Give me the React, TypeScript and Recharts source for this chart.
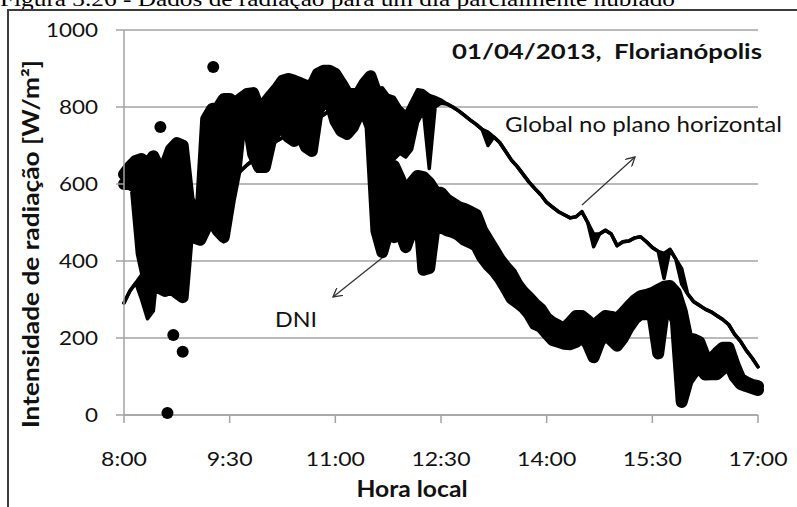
import React from 'react';
import { ComposedChart, Area, Scatter, XAxis, YAxis, CartesianGrid } from 'recharts';

// Eixo X: hora local (minutos desde 0:00), amostras a cada 5 min de 8:00 a 17:00
const T0 = 480;
const STEP = 5;
const xTickLabels = ['8:00', '9:30', '11:00', '12:30', '14:00', '15:30', '17:00'];
const yTicks = [0, 200, 400, 600, 800, 1000];

// DNI: envelope (max/min), uma linha por hora
const dniHi = [
  625, 645, 660, 665, 650, 672, 640, 648, 690, 706, 700, 561,
  525, 510, 769, 795, 797, 821, 821, 810, 823, 834, 836, 795,
  810, 829, 847, 868, 873, 868, 862, 855, 855, 886, 894, 894,
  886, 862, 836, 833, 836, 862, 880, 836, 769, 647, 647, 613,
  569, 603, 621, 618, 603, 580, 577, 560, 550, 540, 535, 528,
  520, 480, 455, 430, 405, 385, 368, 340, 320, 305, 288, 275,
  252, 240, 232, 225, 240, 257, 257, 245, 231, 245, 257, 255,
  250, 265, 282, 298, 309, 312, 317, 325, 333, 335, 318, 270,
  197, 197, 190, 150, 145, 161, 175, 175, 130, 94, 85, 78,
  75,
];
const dniLo = [
  600, 600, 590, 420, 350, 330, 330, 322, 330, 317, 306, 488,
  460, 455, 488, 504, 478, 462, 556, 634, 780, 774, 678, 644,
  644, 712, 738, 756, 722, 712, 730, 696, 686, 790, 813, 816,
  764, 738, 730, 748, 782, 790, 748, 478, 423, 478, 462, 478,
  436, 478, 566, 377, 382, 500, 488, 480, 475, 468, 455, 448,
  440, 410, 390, 375, 355, 330, 303, 292, 280, 262, 236, 229,
  212, 195, 190, 185, 184, 190, 205, 185, 150, 190, 210, 195,
  180, 200, 228, 250, 262, 262, 262, 160, 275, 280, 245, 34,
  88, 110, 125, 105, 106, 106, 120, 135, 100, 81, 75, 70,
  65,
];

// Global no plano horizontal
const globalHi = [
  291, 322, 343, 364, 387, 410, 420, 440, 462, 480, 495, 512,
  525, 540, 555, 565, 580, 600, 612, 620, 636, 650, 662, 672,
  685, 700, 712, 720, 728, 736, 744, 752, 760, 770, 780, 790,
  798, 804, 810, 815, 822, 830, 840, 845, 850, 830, 825, 800,
  785, 815, 845, 842, 830, 825, 818, 808, 800, 790, 778, 766,
  755, 742, 735, 722, 708, 685, 662, 645, 625, 605, 588, 572,
  552, 540, 528, 520, 512, 515, 528, 500, 470, 470, 480, 470,
  440, 450, 452, 460, 463, 450, 435, 425, 420, 430, 405, 380,
  315, 295, 285, 275, 268, 258, 248, 235, 210, 192, 168, 148,
  125,
];
const globalLo = [
  291, 322, 343, 300, 250, 270, 420, 440, 462, 480, 495, 470,
  455, 455, 555, 565, 580, 450, 560, 620, 636, 650, 662, 672,
  685, 700, 712, 720, 728, 736, 744, 752, 760, 770, 780, 790,
  798, 804, 810, 815, 822, 830, 840, 845, 830, 660, 665, 680,
  670, 690, 760, 790, 640, 800, 810, 808, 800, 790, 778, 766,
  755, 742, 700, 722, 708, 685, 662, 645, 625, 605, 588, 572,
  552, 540, 528, 520, 512, 515, 528, 500, 437, 470, 480, 470,
  440, 450, 452, 460, 463, 450, 435, 425, 355, 430, 405, 340,
  315, 295, 285, 275, 268, 258, 248, 235, 210, 192, 168, 148,
  125,
];

// pontos isolados de DNI
const dniDotTimes = [511, 556, 517, 522, 530];
const dniDotValues = [748, 904, 5, 208, 164];

const toMin = (s: string) => {
  const [h, m] = s.split(':').map(Number);
  return h * 60 + m;
};
const xTicks = xTickLabels.map(toMin);

const rows = dniHi.map((_, i) => ({
  t: T0 + i * STEP,
  dni: [dniLo[i], dniHi[i]],
  glob: [globalLo[i], globalHi[i]],
}));
const dniDots = dniDotTimes.map((t, i) => ({ t, v: dniDotValues[i] }));

const GRID = '#a3a3a3';
const INK = '#111';
const FONT = 'Lato, "Open Sans", sans-serif';

const YTick = (props: any) => {
  const s = String(props.payload.value);
  return (
    <text x={props.x} y={props.y} dy={7} textAnchor="end" fontFamily={FONT} fontSize={19} fill={INK}
      textLength={s.length * 13} lengthAdjust="spacingAndGlyphs">
      {s}
    </text>
  );
};

const XTick = (props: any) => {
  const s = xTickLabels[xTicks.indexOf(props.payload.value)] ?? '';
  const digits = s.replace(':', '').length;
  return (
    <text x={props.x} y={props.y} dy={41} textAnchor="middle" fontFamily={FONT} fontSize={19} fill={INK}
      textLength={digits * 13.3 + 6} lengthAdjust="spacingAndGlyphs">
      {s}
    </text>
  );
};

const DotShape = (props: any) => <circle cx={props.cx} cy={props.cy} r={6} fill="#000" />;

export default function App() {
  return (
    <div style={{ position: 'absolute', left: 0, top: 0, width: 797, height: 507, background: '#fff', overflow: 'hidden' }}>
      <div style={{ position: 'absolute', left: 0, top: 0 }}>
        <ComposedChart width={797} height={507} data={rows} margin={{ top: 30, right: 39, left: 64, bottom: 62 }}>
          <CartesianGrid vertical={false} stroke={GRID} strokeWidth={1.5} />
          <XAxis
            type="number"
            dataKey="t"
            domain={[480, 1020]}
            ticks={xTicks}
            interval={0}
            height={30}
            tickSize={8}
            tickMargin={2}
            axisLine={{ stroke: GRID, strokeWidth: 1.5 }}
            tickLine={{ stroke: GRID, strokeWidth: 1.5 }}
            tick={<XTick />}
          />
          <YAxis
            type="number"
            domain={[0, 1000]}
            ticks={yTicks}
            interval={0}
            width={60}
            tickSize={8}
            tickMargin={18}
            axisLine={{ stroke: GRID, strokeWidth: 1.5 }}
            tickLine={{ stroke: GRID, strokeWidth: 1.5 }}
            tick={<YTick />}
          />
          <Area
            type="linear"
            dataKey="glob"
            stroke="#000"
            strokeWidth={3.5}
            strokeLinejoin="round"
            strokeLinecap="round"
            fill="#000"
            fillOpacity={1}
            dot={false}
            activeDot={false}
            isAnimationActive={false}
          />
          <Area
            type="linear"
            dataKey="dni"
            stroke="#000"
            strokeWidth={12}
            strokeLinejoin="round"
            strokeLinecap="round"
            fill="#000"
            fillOpacity={1}
            dot={false}
            activeDot={false}
            isAnimationActive={false}
          />
          <Scatter data={dniDots} dataKey="v" shape={<DotShape />} isAnimationActive={false} />
        </ComposedChart>
      </div>
      <svg width={797} height={507} style={{ position: 'absolute', left: 0, top: 0, pointerEvents: 'none' }}>
        <defs>
          <marker id="head" viewBox="0 0 10 10" refX={9} refY={5} markerWidth={10} markerHeight={10}
            markerUnits="userSpaceOnUse" orient="auto">
            <path d="M0,0 L9,5 L0,10" fill="none" stroke="#333" strokeWidth={1.3} />
          </marker>
        </defs>
        <text x={0} y={6} fontFamily='"Liberation Serif", serif' fontSize={22} fill="#000" textLength={675}
          lengthAdjust="spacingAndGlyphs">
          Figura 3.26 - Dados de radiação para um dia parcialmente nublado
        </text>
        <line x1={7} y1={10} x2={797} y2={10} stroke="#3c3c3c" strokeWidth={2} />
        <line x1={8} y1={9} x2={8} y2={507} stroke="#3c3c3c" strokeWidth={2} />
        <text x={452} y={59} fontFamily={FONT} fontWeight={700} fontSize={20} fill={INK} textLength={310}
          lengthAdjust="spacingAndGlyphs" style={{ whiteSpace: 'pre' }}>
          {'01/04/2013,  Florianópolis'}
        </text>
        <text x={505} y={132} fontFamily={FONT} fontSize={21} fill={INK} textLength={277} lengthAdjust="spacingAndGlyphs">
          Global no plano horizontal
        </text>
        <text x={275} y={327} fontFamily={FONT} fontSize={22} fill={INK} textLength={42} lengthAdjust="spacingAndGlyphs">
          DNI
        </text>
        <line x1={582} y1={205} x2={635} y2={157} stroke="#333" strokeWidth={1.3} markerEnd="url(#head)" />
        <line x1={382} y1={258} x2={333} y2={297} stroke="#333" strokeWidth={1.3} markerEnd="url(#head)" />
        <text x={412} y={497} textAnchor="middle" fontFamily={FONT} fontWeight={700} fontSize={23} fill={INK}
          textLength={111} lengthAdjust="spacingAndGlyphs">
          Hora local
        </text>
        <text transform="translate(39,244) rotate(-90)" textAnchor="middle" fontFamily={FONT} fontWeight={700}
          fontSize={22} fill={INK} textLength={368} lengthAdjust="spacingAndGlyphs">
          Intensidade de radiação [W/m²]
        </text>
      </svg>
    </div>
  );
}
